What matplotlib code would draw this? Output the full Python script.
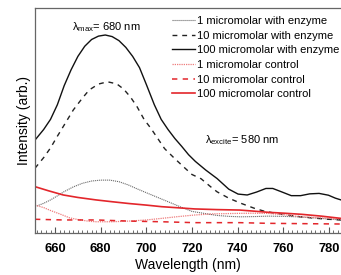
import matplotlib
matplotlib.use('Agg')
from matplotlib import pyplot as plt
from matplotlib.ticker import MultipleLocator

plt.rcParams['font.family'] = ['Liberation Sans', 'DejaVu Sans']

# 100 micromolar with enzyme
wl_100e = [651.2, 655, 658, 661, 664, 667, 670, 673, 676, 679, 682, 685, 688, 691, 694, 697,
           700, 703.5, 706.5, 709.5, 712.5, 715.5, 718.5, 721.5, 726, 731, 736.1, 740.2, 744.2,
           748.3, 752.4, 755.4, 759.5, 763.5, 767.6, 771.6, 775.7, 779.8, 782.8, 785.3]
int_100e = [41.3, 46, 50.5, 57, 65.5, 72.5, 78.5, 83, 86, 87.5, 88, 87.3, 85.5, 82.5, 78.5, 73.5,
            66, 57, 50.5, 46, 42, 38.5, 34.8, 31.8, 28, 24.2, 19.5, 17.3, 16.9,
            18.2, 19.8, 19.8, 18.2, 16.6, 16.6, 17.4, 17.6, 16.8, 15.5, 14.7]

# 10 micromolar with enzyme
wl_10e = [651.2, 655, 658, 661, 664, 668, 672, 675, 679, 683, 687, 690, 693, 696, 699, 702,
          705, 708, 712, 716, 720, 724, 728, 731, 736.1, 741.2, 747.3, 751.3, 756.4, 761.5,
          767.6, 773.7, 779.8, 785.3]
int_10e = [28.8, 33.5, 37.8, 43, 48, 54.7, 60, 63.6, 66.2, 67.2, 66.3, 64, 60.5, 56, 50.5, 46.5,
           42, 37.5, 33.5, 29.7, 26, 24.1, 20.7, 18.3, 15.5, 13.3, 11, 9.8, 8.8, 8,
           7.2, 6.6, 6.1, 5.8]

# 1 micromolar with enzyme
wl_1e = [651.2, 655, 658, 661, 664, 668, 672, 676, 680, 684, 688, 692, 696, 700, 705, 710,
         715, 720, 726, 731, 736.1, 741.2, 747.3, 753.4, 759.5, 766.6, 773.7, 779.8, 785.3]
int_1e = [11.7, 13.2, 14.7, 16.5, 18.4, 20.5, 22.1, 23.1, 23.5, 23.5, 22.8, 21.4, 19.6, 17.9, 15.8, 13.7,
          11.6, 9.6, 8.6, 7.8, 7.4, 7.2, 7.3, 7.5, 7.4, 7.2, 6.7, 6.2, 5.8]

# 100 micromolar control
wl_100c = [651.2, 657, 663.6, 670, 678, 685, 692.4, 700, 706.7, 714, 721.2, 731, 741, 747.3,
           753.4, 760.5, 768.1, 776.7, 785.3]
int_100c = [20.6, 18.8, 16.9, 15.8, 14.7, 13.9, 13.1, 12.4, 11.7, 11.2, 10.7, 10.4, 10.2, 9.7,
            9.2, 8.8, 8.3, 7.5, 6.5]

# 1 micromolar control
wl_1c = [651.2, 655, 658, 662, 666.5, 671, 675, 678, 685, 692.4, 700, 706.7, 714, 721.2, 729,
         738.9, 746.3, 753.4, 761.5, 768.1, 776.7, 785.3]
int_1c = [12.4, 11.3, 10, 8.5, 6.7, 5.8, 5.2, 5.0, 5.0, 5.3, 5.8, 6.5, 7.3, 8.0, 8.5,
          8.7, 8.8, 8.7, 8.0, 7.2, 6.7, 6.2]

# 10 micromolar control
wl_10c = [651.2, 663.6, 678, 692.4, 706.7, 721.2, 741, 753.4, 785.3]
int_10c = [6.1, 5.8, 5.8, 5.3, 5.0, 4.6, 4.6, 4.3, 4.0]

fig = plt.figure(figsize=(3.41, 2.75), dpi=100)
ax = fig.add_axes([0.1026, 0.1527, 0.8974, 0.8182])

red = '#e3262b'
ax.plot(wl_1e, int_1e, color='#6a6a6a', lw=0.8, ls=(0, (1, 0.8)), label='1 micromolar with enzyme')
ax.plot(wl_10e, int_10e, color='#222222', lw=1.0, ls=(0, (3.5, 3.5)), label='10 micromolar with enzyme')
ax.plot(wl_100e, int_100e, color='#111111', lw=1.0, label='100 micromolar with enzyme')
ax.plot(wl_1c, int_1c, color='#ee7b7b', lw=0.9, ls=(0, (1, 0.8)), label='1 micromolar control')
ax.plot(wl_10c, int_10c, color=red, lw=1.1, ls=(0, (3.5, 3.5)), label='10 micromolar control')
ax.plot(wl_100c, int_100c, color=red, lw=1.2, label='100 micromolar control')

ax.set_xlim(651.2, 785.3)
ax.set_ylim(0, 100)
ax.set_yticks([])
ax.xaxis.set_major_locator(MultipleLocator(20))
ax.xaxis.set_minor_locator(MultipleLocator(2))
ax.tick_params(axis='x', which='both', direction='in', top=False, color='#555555')
ax.tick_params(axis='x', which='major', length=4, labelsize=9.3, pad=7)
ax.tick_params(axis='x', which='minor', length=2.5)
for lab in ax.get_xticklabels():
    lab.set_fontweight('bold')
for s in ['left', 'bottom', 'top']:
    ax.spines[s].set_color('#666666')
    ax.spines[s].set_linewidth(0.9)
ax.spines['right'].set_visible(False)

ax.set_xlabel('Wavelength (nm)', fontsize=10, labelpad=2)
ax.set_ylabel('Intensity (arb.)', fontsize=10, labelpad=3)

ax.text(0.12, 0.9, r'λ$_{\mathregular{max}}$= 680 nm', transform=ax.transAxes, fontsize=8)
ax.text(0.555, 0.40, r'λ$_{\mathregular{excite}}$= 580 nm', transform=ax.transAxes, fontsize=8)

ax.legend(loc='upper right', bbox_to_anchor=(1.015, 0.994), frameon=False, fontsize=8,
          handlelength=2.1, handletextpad=0.15, labelspacing=0.42, borderaxespad=0.2)

fig.savefig('out.png', dpi=100)
